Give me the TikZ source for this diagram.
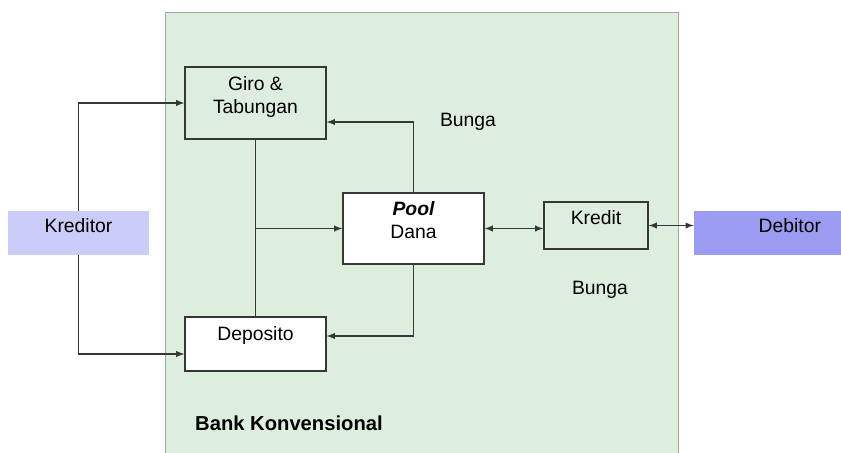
\documentclass[tikz,border=0pt]{standalone}
\usepackage{fontspec}
\setmainfont{Liberation Sans}
\usepackage{xcolor}
\usepackage{tikz}
\usetikzlibrary{calc}
\usetikzlibrary{shapes}

\definecolor{bankgreen}{RGB}{222,238,222}
\definecolor{bankedge}{RGB}{160,168,160}
\definecolor{kreditorblue}{RGB}{204,204,248}
\definecolor{debitorblue}{RGB}{155,155,242}
\definecolor{lineg}{RGB}{55,55,55}

\begin{document}
\begin{tikzpicture}[>=latex,
	box/.style={rectangle, draw=lineg, line width=0.8pt, minimum width=28.2mm, font=\fontsize{11}{13}\selectfont},
	party/.style={rectangle, minimum height=8.8mm, text height=0.28cm, text depth=0.28cm, font=\fontsize{11}{13}\selectfont},
	word/.style={font=\fontsize{11}{13}\selectfont},
	link/.style={draw=lineg, line width=0.6pt}]
		\useasboundingbox (0,0) rectangle (16.82,9.06);

		%bank
		\node at (8.44,4.4) (bank) [rectangle, fill=bankgreen, minimum width=102.4mm, minimum height=88mm, inner sep=0pt] {};
		\draw [bankedge, line width=0.8pt] (bank.south west) |- (bank.north east) -- (bank.south east);

		%elements
		\node at (5.11,7.0) (giro) [box, minimum height=14.4mm, align=center, text depth=0.33cm] {Giro \&\\Tabungan};

		\node at (5.11,2.18) (deposito) [box, fill=white, minimum height=10.8mm, text height=0.28cm, text depth=0.4cm] {Deposito};

		\node at (8.27,4.49) (pool) [box, fill=white, minimum height=14.2mm, align=center, text depth=0.33cm] {{\bfseries\itshape Pool}\\Dana};

		\node at (11.92,4.55) (kredit) [box, minimum width=20.8mm, minimum height=9.4mm, text height=0.28cm, text depth=0.3cm] {Kredit};

		\node at (1.57,4.4) (kreditor) [party, fill=kreditorblue, minimum width=28.2mm] {Kreditor};

		\node at (15.35,4.4) (debitor) [party, fill=debitorblue, text width=21.4mm, inner xsep=4mm, align=right] {Debitor};

		%text
		\node at (9.36,6.62) (bungaatas) [word] {Bunga};
		\node at (12.0,3.26) (bungabawah) [word] {Bunga};
		\node [anchor=west] at (3.78,0.6) (bankname) [word, font=\fontsize{11.5}{13}\selectfont\bfseries] {Bank Konvensional};

		%arrows
		\draw [->, link] (kreditor.north) |- (giro.west);
		\draw [->, link] (kreditor.south) |- ($(deposito.west)+(0cm,-0.2cm)$);
		\draw [link] (giro.south) -- (deposito.north);
		\draw [->, link] (giro.south |- pool.west) -- (pool.west);
		\draw [->, link] (pool.north) |- ($(giro.east)+(0cm,-0.38cm)$);
		\draw [->, link] (pool.south) |- ($(deposito.east)+(0cm,0.16cm)$);
		\draw [<->, link] (pool.east) -- (pool.east -| kredit.west);
		\draw [<->, link] (kredit.east) -- (kredit.east -| debitor.west);
		\end{tikzpicture}
\end{document}
